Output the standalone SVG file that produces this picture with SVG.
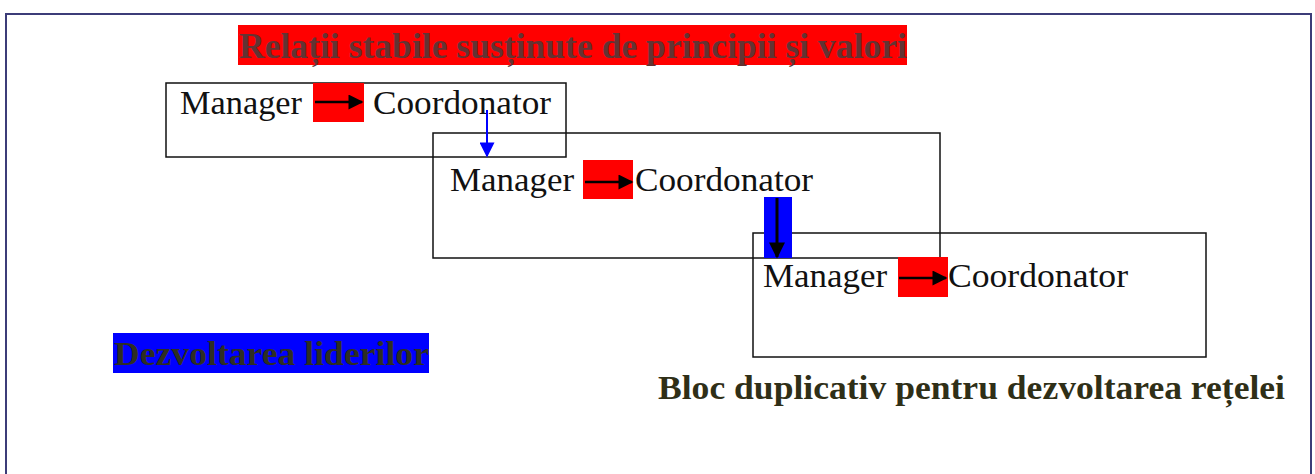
<svg xmlns="http://www.w3.org/2000/svg" width="1315" height="474" viewBox="0 0 1315 474">
<defs>
<style>
.box{fill:none;stroke:#111;stroke-width:1.5}
.mc{font-family:'Liberation Serif','Times New Roman',Times,serif;font-size:34px;fill:#111}
.red{fill:#ff0000}
.blue{fill:#0000ff}
.bold{font-family:'Liberation Serif','Times New Roman',Times,serif;font-weight:bold}
</style>
<marker id="ah" viewBox="0 0 10 10" refX="9" refY="5" markerWidth="17" markerHeight="15" orient="auto" markerUnits="userSpaceOnUse"><path d="M0,0 L10,5 L0,10 z" fill="#000"/></marker>
<marker id="ahd" viewBox="0 0 10 10" refX="9" refY="5" markerWidth="20" markerHeight="16" orient="auto" markerUnits="userSpaceOnUse"><path d="M0,0 L10,5 L0,10 z" fill="#000"/></marker>
<marker id="ahb" viewBox="0 0 10 10" refX="9" refY="5" markerWidth="16" markerHeight="15" orient="auto" markerUnits="userSpaceOnUse"><path d="M0,0 L10,5 L0,10 z" fill="#0000ff"/></marker>
</defs>
<rect x="0" y="0" width="1315" height="474" fill="#ffffff"/>
<rect x="6" y="14" width="1305" height="480" fill="none" stroke="#3c3c78" stroke-width="2"/>

<g id="title">
<rect class="red" x="238" y="25" width="669" height="40"/>
<text class="bold" x="239" y="58" font-size="35" fill="#633333" textLength="668" lengthAdjust="spacingAndGlyphs">Relații stabile susținute de principii și valori</text>
</g>

<g id="block1">
<rect class="box" x="166" y="83" width="400" height="74"/>
<text class="mc" x="180" y="114" textLength="122" lengthAdjust="spacingAndGlyphs">Manager</text>
<rect class="red" x="313" y="83" width="51" height="39"/>
<text class="mc" x="373" y="114" textLength="178" lengthAdjust="spacingAndGlyphs">Coordonator</text>
</g>

<g id="block2">
<rect class="box" x="433" y="133" width="507" height="125"/>
<text class="mc" x="450" y="191" textLength="124" lengthAdjust="spacingAndGlyphs">Manager</text>
<rect class="red" x="583" y="160" width="50" height="39"/>
<text class="mc" x="635" y="191" textLength="178" lengthAdjust="spacingAndGlyphs">Coordonator</text>
</g>

<g id="block3">
<rect class="box" x="753" y="233" width="453" height="124"/>
<rect class="red" x="898" y="257" width="50" height="40"/>
<text class="mc" x="763" y="287" textLength="124" lengthAdjust="spacingAndGlyphs">Manager</text>
<text class="mc" x="948" y="287" textLength="180" lengthAdjust="spacingAndGlyphs">Coordonator</text>
</g>

<g id="dezvoltarea">
<rect class="blue" x="113" y="333" width="316" height="40"/>
<text class="bold" x="114" y="365" font-size="34" fill="#2e2e22" textLength="315" lengthAdjust="spacingAndGlyphs">Dezvoltarea liderilor</text>
</g>

<g id="bloc">
<text class="bold" x="658" y="399" font-size="33" fill="#2f2f17" textLength="627" lengthAdjust="spacingAndGlyphs">Bloc duplicativ pentru dezvoltarea rețelei</text>
</g>

<g id="connectors">
<rect class="blue" x="764" y="197" width="28" height="61"/>
<line x1="315" y1="102" x2="362" y2="102" stroke="#000" stroke-width="2.5" marker-end="url(#ah)"/>
<line x1="585" y1="182" x2="632" y2="182" stroke="#000" stroke-width="2.5" marker-end="url(#ah)"/>
<line x1="899" y1="278" x2="946" y2="278" stroke="#000" stroke-width="2.5" marker-end="url(#ah)"/>
<line x1="487" y1="110" x2="487" y2="156" stroke="#0000ff" stroke-width="2" marker-end="url(#ahb)"/>
<line x1="777" y1="198" x2="777" y2="257" stroke="#000" stroke-width="3" marker-end="url(#ahd)"/>
</g>
</svg>
